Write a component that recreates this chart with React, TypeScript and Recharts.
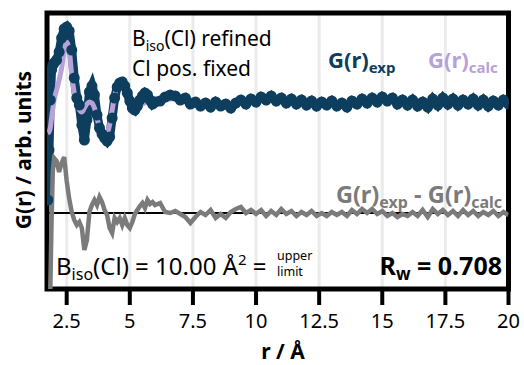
import { ComposedChart, Line, XAxis, YAxis, CartesianGrid, ReferenceLine, ReferenceArea } from 'recharts';

// r grid (Å)
const rValues = [
  1.75, 1.8, 1.85, 1.9, 1.95, 2.0, 2.1, 2.2, 2.3, 2.4, 2.5, 2.6, 2.7, 2.8, 2.9,
  3.0, 3.1, 3.2, 3.3, 3.4, 3.5, 3.6, 3.7, 3.8, 3.9, 4.0, 4.1, 4.2, 4.3, 4.4, 4.5, 4.6, 4.7, 4.8, 4.9,
  5.0, 5.1, 5.2, 5.3, 5.4, 5.5, 5.6, 5.7, 5.8, 5.9, 6.0,
  6.2, 6.4, 6.6, 6.8, 7.0, 7.2, 7.4, 7.6, 7.8, 8.0, 8.2, 8.4, 8.6, 8.8, 9.0, 9.2, 9.4, 9.6, 9.8, 10.0,
  10.2, 10.4, 10.6, 10.8, 11.0, 11.2, 11.4, 11.6, 11.8, 12.0, 12.2, 12.4, 12.6, 12.8, 13.0, 13.2, 13.4, 13.6, 13.8, 14.0,
  14.2, 14.4, 14.6, 14.8, 15.0, 15.2, 15.4, 15.6, 15.8, 16.0, 16.2, 16.4, 16.6, 16.8, 17.0, 17.2, 17.4, 17.6, 17.8, 18.0,
  18.2, 18.4, 18.6, 18.8, 19.0, 19.2, 19.4, 19.6, 19.8, 20.0,
];

const gExp = [
  -9.9, -4.9, 0.1, 3.1, 3.6, 3.8, 4.1, 4.9, 6.3, 7.2, 7.4, 7.0, 5.1, 2.3, 0.3,
  -0.4, -2.4, -3.9, -1.9, 0.9, 1.5, 0.6, -1.4, -2.7, -3.3, -3.7, -4.0, -3.6, -1.7, 0.3, 1.4, 1.8, 1.9, 1.5, 0.8,
  0.0, -0.7, -0.9, -0.5, 0.1, 0.5, 0.8, 0.6, 0.1, -0.3, -0.1,
  0.0, 0.4, 0.6, 0.5, 0.1, 0.3, -0.3, -0.1, -0.5, -0.2, -0.6, -0.1, -0.5, -0.3, -0.7, -0.2, 0.1, -0.3, 0.2, -0.1,
  0.4, 0.1, 0.5, 0.0, 0.3, -0.2, 0.2, -0.3, 0.1, -0.4, 0.0, -0.5, -0.1, -0.4, 0.0, -0.5, -0.2, -0.6, 0.0, -0.3,
  0.2, -0.2, 0.3, -0.1, 0.4, 0.0, 0.3, -0.3, 0.1, -0.4, 0.1, -0.5, -0.1, -0.6, 0.2, -0.4, 0.3, -0.3, 0.2, -0.4,
  0.1, -0.3, 0.2, -0.4, 0.1, -0.5, 0.0, -0.4, 0.1, -0.3,
];

const gCalc = [
  -3.2, -3.1, -2.7, -1.7, -0.8, 0.1, 1.1, 2.1, 3.3, 4.9, 5.9, 5.1, 2.6, 0.8, -0.3,
  -0.9, -1.1, -0.7, -0.3, -0.1, -0.2, -0.7, -1.7, -2.7, -3.3, -3.6, -3.3, -2.4, -0.9, 0.5, 1.5, 2.1, 2.2, 1.7, 0.8,
  0.1, -0.3, -0.5, -0.5, -0.4, -0.3, -0.2, -0.1, 0.0, 0.1, 0.2,
  0.2, 0.2, 0.2, 0.3, 0.3, 0.1, -0.1, -0.2, -0.2, -0.3, -0.3, -0.3, -0.4, -0.4, -0.3, -0.3, -0.2, -0.1, 0.0, 0.1,
  0.1, 0.2, 0.2, 0.2, 0.1, 0.1, 0.0, -0.1, -0.1, -0.2, -0.2, -0.2, -0.2, -0.2, -0.2, -0.2, -0.3, -0.2, -0.2, -0.1,
  -0.1, 0.0, 0.0, 0.1, 0.1, 0.1, 0.0, 0.0, -0.1, -0.1, -0.2, -0.2, -0.2, -0.2, -0.2, -0.2, -0.1, -0.1, -0.1, -0.1,
  -0.1, -0.1, -0.1, -0.1, -0.1, -0.2, -0.2, -0.2, -0.2, -0.2,
];

// difference curve, already shifted by the offset below
const gDiff = [
  -19.9, -19.9, -18.9, -12.0, -7.0, -5.7, -6.0, -7.1, -6.2, -5.6, -8.0, -9.8, -11.1, -11.9, -12.4,
  -12.1, -12.7, -14.9, -13.9, -11.1, -10.4, -9.9, -10.4, -9.6, -10.1, -10.9, -11.4, -12.7, -13.2, -11.7, -12.1, -11.7, -12.4, -11.7, -12.4,
  -12.7, -12.1, -11.3, -10.9, -10.5, -10.2, -10.7, -9.9, -10.3, -10.1, -10.4,
  -10.2, -11.1, -11.2, -11.0, -11.3, -11.6, -12.2, -11.6, -11.1, -11.4, -10.9, -11.7, -11.3, -11.7, -11.1, -10.8, -10.6, -11.2, -10.9, -11.3,
  -10.9, -11.5, -11.0, -11.4, -10.8, -11.3, -11.0, -11.5, -11.1, -11.4, -11.0, -11.5, -11.2, -11.5, -11.1, -11.4, -11.1, -11.5, -10.9, -11.3,
  -10.8, -11.2, -10.8, -11.3, -11.0, -11.5, -11.2, -11.6, -11.3, -11.5, -11.1, -11.5, -10.9, -11.6, -10.8, -11.3, -10.9, -11.4, -11.0, -11.5,
  -10.9, -11.4, -11.0, -11.5, -11.1, -11.4, -11.0, -11.5, -11.1, -11.4,
];

const diffOffset = -11.2;
const xTicks = [2.5, 5, 7.5, 10, 12.5, 15, 17.5, 20];
const xDomain = [1.72, 20];
const yDomain = [-18.8, 8.8];

const EXP = '#0d3e5e';
const CALC = '#b7a1d9';
const DIFF = '#7b7b7b';
const FONT = '"Noto Sans", "Open Sans", sans-serif';

const rows = rValues.map((r, i) => ({ r, exp: gExp[i], calc: gCalc[i], diff: gDiff[i] }));

export default function App() {
  return (
    <div style={{ position: 'absolute', left: 0, top: 0, width: 524, height: 365, background: '#fff' }}>
      <ComposedChart width={524} height={365} data={rows} margin={{ top: 13, right: 15.5, left: 47, bottom: 0 }}>
        <CartesianGrid horizontal={false} stroke="#ebebeb" strokeWidth={3} />
        <XAxis
          dataKey="r"
          type="number"
          domain={xDomain}
          ticks={xTicks}
          allowDataOverflow
          height={76}
          axisLine={false}
          tickSize={16}
          tickMargin={9}
          tickLine={{ stroke: '#000', strokeWidth: 4 }}
          tick={{ fontSize: 20, fill: '#000', fontFamily: FONT }}
        />
        <YAxis hide width={0} type="number" domain={yDomain} allowDataOverflow />
        <ReferenceLine y={diffOffset} stroke="#000" strokeWidth={2} />
        <Line
          dataKey="exp"
          stroke={EXP}
          strokeWidth={9}
          dot={{ r: 5.5, fill: EXP, stroke: 'none' }}
          isAnimationActive={false}
        />
        <Line dataKey="calc" type="monotone" stroke={CALC} strokeWidth={5} dot={false} isAnimationActive={false} />
        <Line dataKey="diff" stroke={DIFF} strokeWidth={4.5} dot={false} isAnimationActive={false} />
        <ReferenceArea
          x1={xDomain[0]}
          x2={xDomain[1]}
          y1={yDomain[0]}
          y2={yDomain[1]}
          fill="none"
          stroke="#000"
          strokeWidth={5}
        />
      </ComposedChart>
      <svg
        width={524}
        height={365}
        style={{ position: 'absolute', left: 0, top: 0, pointerEvents: 'none' }}
        fontFamily={FONT}
      >
        <text x={132} y={46} fontSize={21}>
          B<tspan fontSize={14} dy={5}>iso</tspan>
          <tspan dy={-5}>(Cl) refined</tspan>
        </text>
        <text x={132} y={76} fontSize={21}>Cl pos. fixed</text>
        <text x={328} y={68} fontSize={22} fontWeight="bold" fill={EXP}>
          G(r)<tspan fontSize={15} dy={5}>exp</tspan>
        </text>
        <text x={428} y={68} fontSize={22} fontWeight="bold" fill={CALC}>
          G(r)<tspan fontSize={15} dy={5}>calc</tspan>
        </text>
        <text x={502} y={203} fontSize={23.5} fontWeight="bold" fill={DIFF} textAnchor="end">
          G(r)<tspan fontSize={16} dy={5}>exp</tspan>
          <tspan dy={-5}> - G(r)</tspan>
          <tspan fontSize={16} dy={5}>calc</tspan>
        </text>
        <text x={56} y={275} fontSize={24}>
          B<tspan fontSize={16} dy={5}>iso</tspan>
          <tspan dy={-5}>(Cl) = 10.00 Å</tspan>
          <tspan fontSize={15} dy={-10}>2</tspan>
          <tspan dy={10}> =</tspan>
        </text>
        <text x={277} y={260} fontSize={12.5}>upper</text>
        <text x={277} y={276} fontSize={12.5}>limit</text>
        <text x={502} y={275} fontSize={25} fontWeight="bold" textAnchor="end">
          R<tspan fontSize={17} dy={5}>w</tspan>
          <tspan dy={-5}> = 0.708</tspan>
        </text>
        <text x={31} y={150} fontSize={21} fontWeight="bold" textAnchor="middle" transform="rotate(-90 31 150)">
          G(r) / arb. units
        </text>
        <text x={283} y={359} fontSize={21} fontWeight="bold" textAnchor="middle">
          r / Å
        </text>
      </svg>
    </div>
  );
}
